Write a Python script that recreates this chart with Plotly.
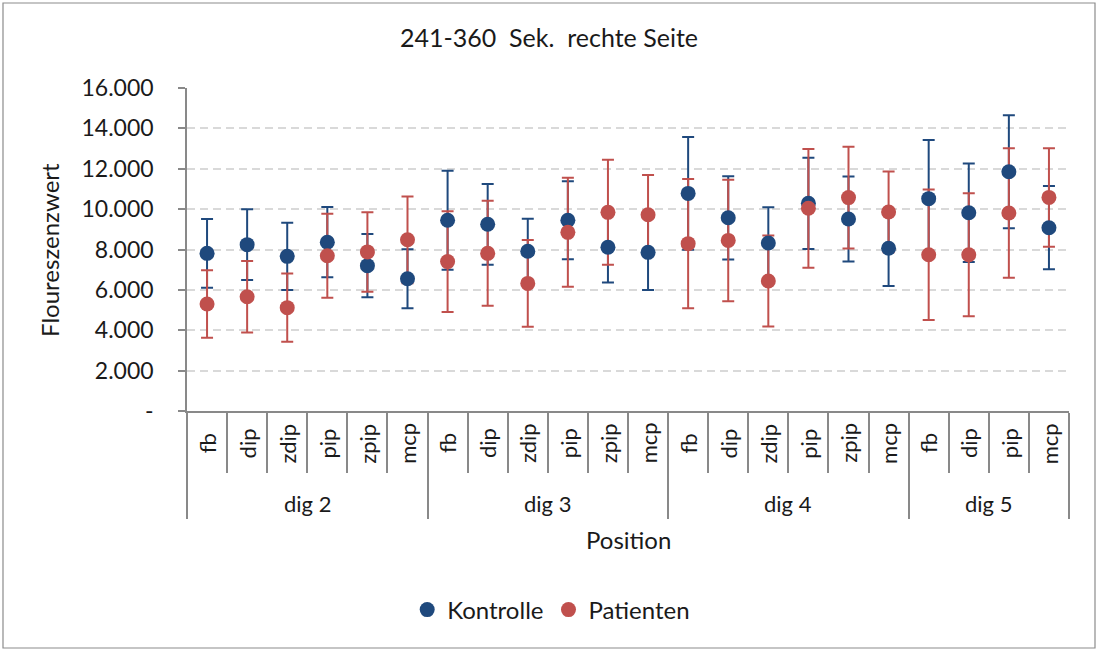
import plotly.graph_objects as go

# Finger positions and their digit groups
positions = ["fb", "dip", "zdip", "pip", "zpip", "mcp",
             "fb", "dip", "zdip", "pip", "zpip", "mcp",
             "fb", "dip", "zdip", "pip", "zpip", "mcp",
             "fb", "dip", "pip", "mcp"]
digits = ["dig 2"] * 6 + ["dig 3"] * 6 + ["dig 4"] * 6 + ["dig 5"] * 4

# Mean fluorescence values and standard deviations
kontrolle_mean = [7810, 8240, 7660, 8360, 7200, 6550,
                  9450, 9250, 7910, 9450, 8110, 7860,
                  10780, 9570, 8320, 10290, 9510, 8060,
                  10520, 9820, 11850, 9080]
kontrolle_sd = [1700, 1750, 1660, 1740, 1570, 1460,
                2450, 2000, 1610, 1930, 1740, 1870,
                2790, 2060, 1770, 2260, 2100, 1870,
                2900, 2440, 2800, 2060]
patienten_mean = [5300, 5660, 5120, 7690, 7880, 8480,
                  7400, 7810, 6320, 8850, 9840, 9720,
                  8290, 8450, 6440, 10040, 10570, 9860,
                  7740, 7740, 9810, 10580]
patienten_sd = [1670, 1770, 1690, 2080, 1970, 2150,
                2500, 2600, 2150, 2700, 2600, 1970,
                3200, 3010, 2250, 2940, 2520, 2000,
                3230, 3050, 3210, 2440]

y_ticks = [0, 2000, 4000, 6000, 8000, 10000, 12000, 14000, 16000]
y_ticktext = ["-", "2.000", "4.000", "6.000", "8.000", "10.000", "12.000", "14.000", "16.000"]

BLUE = "#1F497D"
RED = "#C0504D"
FONT = "Lato"
TXT = "#1a1a1a"
AXIS = "#898989"

x = list(range(len(positions)))

fig = go.Figure()

# error bars first, then markers on top
for mean, sd, col in [(kontrolle_mean, kontrolle_sd, BLUE), (patienten_mean, patienten_sd, RED)]:
    fig.add_trace(go.Scatter(
        x=x, y=mean, mode="markers", showlegend=False, hoverinfo="skip",
        marker=dict(size=1, color=col, opacity=0),
        error_y=dict(type="data", array=sd, visible=True, color=col, thickness=2, width=6),
    ))
for mean, name, col in [(kontrolle_mean, "Kontrolle", BLUE), (patienten_mean, "Patienten", RED)]:
    fig.add_trace(go.Scatter(
        x=x, y=mean, mode="markers", name=name,
        marker=dict(size=15, color=col, line=dict(width=0)),
    ))

# group boundaries for the digit dividers
bounds = [-0.5]
for i in range(1, len(digits)):
    if digits[i] != digits[i - 1]:
        bounds.append(i - 0.5)
bounds.append(len(digits) - 0.5)

fig.update_xaxes(
    range=[-0.5, len(positions) - 0.5], showgrid=False, zeroline=False,
    showline=True, linecolor=AXIS, linewidth=1.5,
    tickmode="array", tickvals=bounds, ticks="outside", ticklen=106,
    tickcolor=AXIS, tickwidth=1.5, showticklabels=False,
    minor=dict(tick0=-0.5, dtick=1, ticks="outside", ticklen=60, tickcolor=AXIS, tickwidth=1.5),
)
fig.update_yaxes(
    range=[0, 16000], tickmode="array", tickvals=y_ticks, ticktext=y_ticktext,
    showgrid=True, gridcolor="#D9D9D9", gridwidth=2, griddash="8px,5px",
    zeroline=False, showline=True, linecolor=AXIS, linewidth=1.5,
    ticks="outside", ticklen=7, tickcolor=AXIS, tickwidth=1.5,
    ticklabelstandoff=20, tickfont=dict(family=FONT, size=23, color=TXT),
)

annotations = []
for i, p in enumerate(positions):
    annotations.append(dict(x=i, y=-0.1, xref="x", yref="paper", text=p, showarrow=False,
                            textangle=-90, xanchor="center", yanchor="middle",
                            font=dict(family=FONT, size=22, color=TXT)))
for g in dict.fromkeys(digits):
    idx = [i for i, d in enumerate(digits) if d == g]
    annotations.append(dict(x=(idx[0] + idx[-1]) / 2, y=-0.285, xref="x", yref="paper", text=g,
                            showarrow=False, xanchor="center", yanchor="middle",
                            font=dict(family=FONT, size=22, color=TXT)))
annotations.append(dict(x=0.5, y=-0.399, xref="paper", yref="paper", text="Position",
                        showarrow=False, xanchor="center", yanchor="middle",
                        font=dict(family=FONT, size=24, color=TXT)))
annotations.append(dict(x=-0.156, y=0.5, xref="paper", yref="paper", text="Floureszenzwert",
                        showarrow=False, textangle=-90, xanchor="center", yanchor="middle",
                        font=dict(family=FONT, size=24, color=TXT)))

fig.update_layout(
    width=1098, height=651,
    margin=dict(l=187, r=29, t=88, b=240),
    paper_bgcolor="white", plot_bgcolor="white",
    font=dict(family=FONT, size=22, color=TXT),
    title=dict(text="241-360\u00a0 Sek.\u00a0 rechte Seite", x=0.5, xref="container", xanchor="center",
               y=1 - 38 / 651, yref="container", yanchor="middle",
               font=dict(family=FONT, size=25, color=TXT)),
    legend=dict(orientation="h", xref="container", yref="container", x=0.502, y=1 - 610 / 651,
                xanchor="center", yanchor="middle", font=dict(family=FONT, size=24, color=TXT),
                bgcolor="rgba(0,0,0,0)", itemwidth=30),
    annotations=annotations,
    shapes=[dict(type="rect", xref="paper", yref="paper",
                 x0=(3 - 187) / 882, x1=(1095 - 187) / 882,
                 y0=(411 - 648) / 323, y1=(411 - 3) / 323,
                 line=dict(color="#8C8C8C", width=1.2), fillcolor="rgba(0,0,0,0)", layer="below")],
)

fig.write_html("out.html", post_script="document.body.style.margin='0';")
